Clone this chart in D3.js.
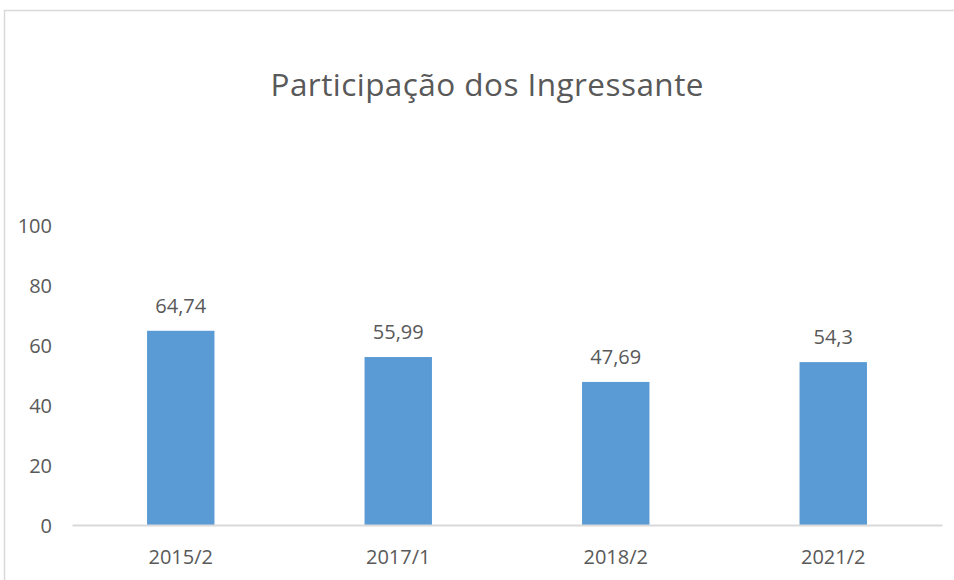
<!DOCTYPE html>
<html lang="pt">
<head>
<meta charset="UTF-8">
<title>Participação dos Ingressante</title>
<script src="https://d3js.org/d3.v7.min.js"></script>
<style>
  body { margin: 0; background: #fff; }
  svg text { font-family: "Open Sans", "Noto Sans", sans-serif; fill: #595959; }
</style>
</head>
<body>
<div id="grafico"></div>
<script>
// dados do grafico
const categorias = ["2015/2", "2017/1", "2018/2", "2021/2"];
const valores = [64.74, 55.99, 47.69, 54.3];
const ticksY = [0, 20, 40, 60, 80, 100];
const titulo = "Participação dos Ingressante";

const width = 954, height = 580;
const margin = { top: 225, right: 12, bottom: 55, left: 72 };

const svg = d3.select("#grafico")
  .append("svg")
  .attr("width", width)
  .attr("height", height);

// moldura do grafico
svg.append("rect")
  .attr("x", 4.5).attr("y", 10.5)
  .attr("width", width + 10).attr("height", height + 10)
  .attr("fill", "none")
  .attr("stroke", "#d9d9d9")
  .attr("stroke-width", 1.5);

const xScale = d3.scaleBand()
  .domain(categorias)
  .range([margin.left, width - margin.right])
  .paddingInner(0.69)
  .paddingOuter(0.345);

const yScale = d3.scaleLinear()
  .domain([0, 100])
  .range([height - margin.bottom, margin.top]);

// titulo
svg.append("text")
  .attr("x", 487)
  .attr("y", 96)
  .attr("text-anchor", "middle")
  .style("font-size", "31.5px")
  .attr("textLength", 433)
  .attr("lengthAdjust", "spacing")
  .text(titulo);

// eixo y (apenas rotulos)
const eixoY = svg.append("g")
  .attr("transform", `translate(${margin.left - 20},0)`)
  .call(d3.axisLeft(yScale).tickValues(ticksY).tickSize(0).tickPadding(0));
eixoY.select(".domain").remove();
eixoY.selectAll("text")
  .attr("dy", "0.35em")
  .style("font-size", "20px")
  .style("font-family", "'Open Sans', sans-serif")
  .attr("fill", "#595959");

// barras
svg.selectAll(".barra")
  .data(valores)
  .enter().append("rect")
  .attr("class", "barra")
  .attr("x", (d, i) => xScale(categorias[i]))
  .attr("y", d => yScale(d))
  .attr("width", xScale.bandwidth())
  .attr("height", d => yScale(0) - yScale(d))
  .attr("fill", "#5b9bd5");

// eixo x
const eixoX = svg.append("g")
  .attr("transform", `translate(0,${yScale(0)})`)
  .call(d3.axisBottom(xScale).tickSize(0).tickPadding(25));
eixoX.select(".domain")
  .attr("stroke", "#d9d9d9")
  .attr("stroke-width", 2);
eixoX.selectAll("text")
  .style("font-size", "20px")
  .style("font-family", "'Open Sans', sans-serif")
  .attr("fill", "#595959");

// rotulos de dados
svg.selectAll(".rotulo")
  .data(valores)
  .enter().append("text")
  .attr("class", "rotulo")
  .attr("x", (d, i) => xScale(categorias[i]) + xScale.bandwidth() / 2)
  .attr("y", d => yScale(d) - 18)
  .attr("text-anchor", "middle")
  .style("font-size", "20px")
  .text(d => String(d).replace(".", ","));
</script>
</body>
</html>
